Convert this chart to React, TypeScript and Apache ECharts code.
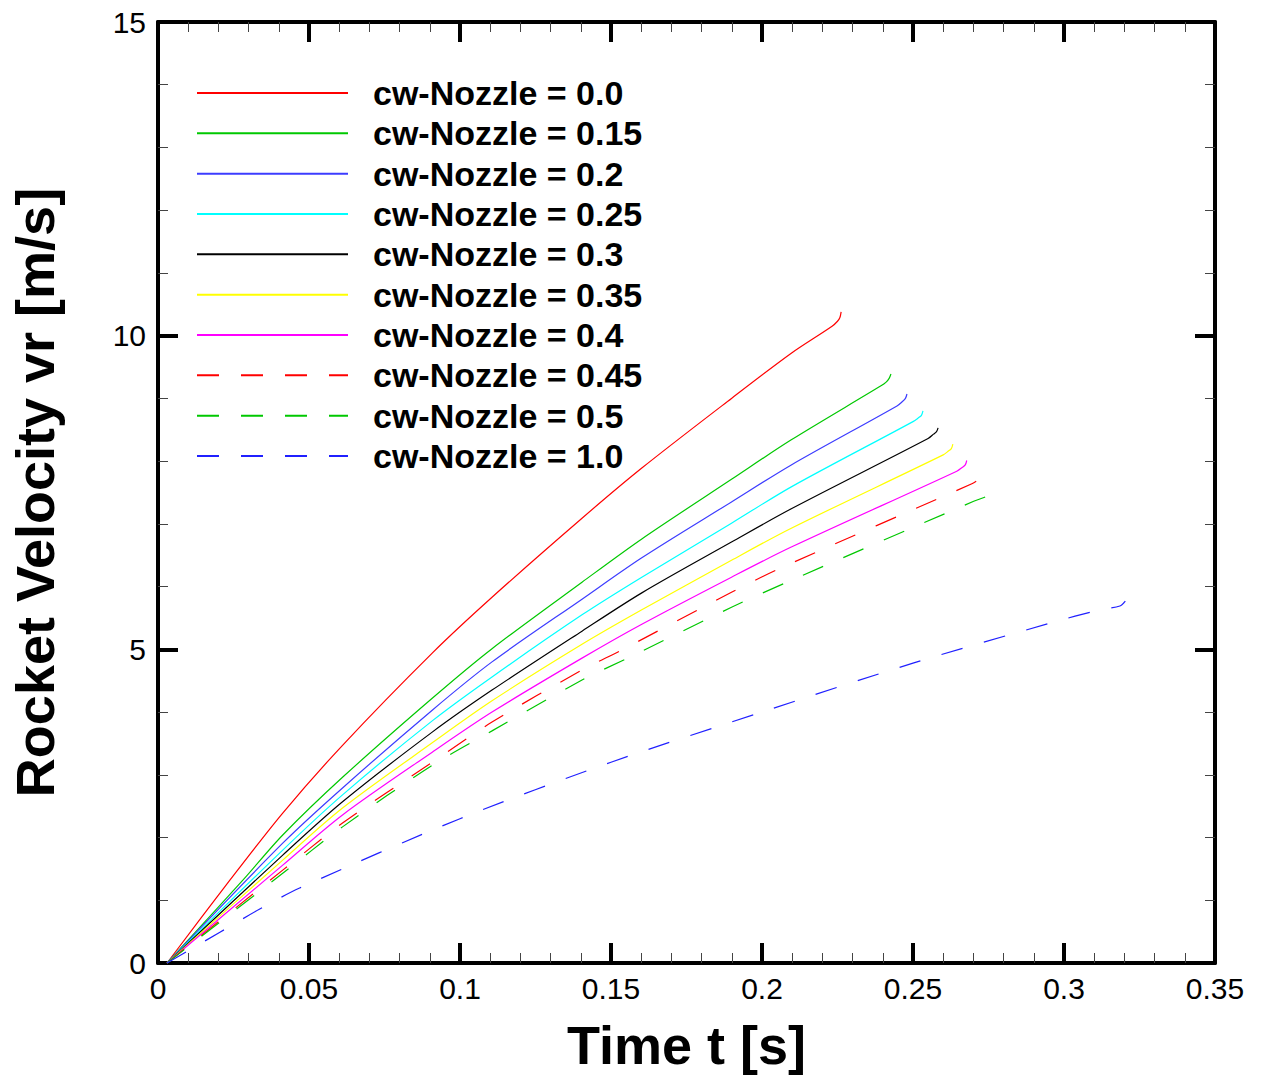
import React, { useEffect, useRef } from "react";
import * as echarts from "echarts";

const xTicks = [0, 0.35, 0.05];
const yTicks = [0, 15, 5];

const seriesNames = [
  "cw-Nozzle = 0.0",
  "cw-Nozzle = 0.15",
  "cw-Nozzle = 0.2",
  "cw-Nozzle = 0.25",
  "cw-Nozzle = 0.3",
  "cw-Nozzle = 0.35",
  "cw-Nozzle = 0.4",
  "cw-Nozzle = 0.45",
  "cw-Nozzle = 0.5",
  "cw-Nozzle = 1.0",
];

const seriesColors = [
  "#ff0000", "#00c800", "#3c3cff", "#00ffff", "#000000",
  "#ffff00", "#ff00ff", "#ff0000", "#00c800", "#2020ff",
];

const seriesDashed = [false, false, false, false, false, false, false, true, true, true];

const v000 = [[0.003, 0], [0.0238, 1.32], [0.0413, 2.39], [0.0611, 3.47], [0.0908, 4.94], [0.1106, 5.83], [0.1404, 7.09], [0.1602, 7.89], [0.1899, 9.0], [0.2097, 9.72], [0.2232, 10.15], [0.2250, 10.23], [0.2258, 10.29], [0.2262, 10.38]];
const v015 = [[0.003, 0], [0.0281, 1.32], [0.0413, 2.04], [0.0611, 2.96], [0.0908, 4.22], [0.1106, 5.01], [0.1404, 6.07], [0.1602, 6.76], [0.1899, 7.71], [0.2097, 8.34], [0.2394, 9.2], [0.2411, 9.26], [0.2421, 9.32], [0.2427, 9.39]];
const v020 = [[0.003, 0], [0.0413, 1.91], [0.0611, 2.79], [0.0908, 4.03], [0.1106, 4.8], [0.1404, 5.8], [0.1602, 6.46], [0.1899, 7.35], [0.2097, 7.94], [0.2447, 8.88], [0.2465, 8.95], [0.2475, 9.0], [0.248, 9.07]];
const v025 = [[0.003, 0], [0.0413, 1.8], [0.0611, 2.68], [0.0908, 3.86], [0.1106, 4.56], [0.1404, 5.55], [0.1602, 6.15], [0.1899, 7.01], [0.2097, 7.59], [0.25, 8.63], [0.2518, 8.69], [0.2528, 8.73], [0.2533, 8.8]];
const v030 = [[0.003, 0], [0.0413, 1.72], [0.0611, 2.57], [0.0908, 3.68], [0.1106, 4.35], [0.1404, 5.29], [0.1602, 5.9], [0.1899, 6.71], [0.2097, 7.24], [0.255, 8.36], [0.2568, 8.43], [0.2578, 8.47], [0.2583, 8.53]];
const v035 = [[0.003, 0], [0.0413, 1.64], [0.0611, 2.47], [0.0908, 3.51], [0.1106, 4.18], [0.1404, 5.08], [0.1602, 5.63], [0.1899, 6.42], [0.2097, 6.93], [0.26, 8.1], [0.2617, 8.16], [0.2627, 8.2], [0.2632, 8.27]];
const v040 = [[0.003, 0], [0.0413, 1.56], [0.0611, 2.36], [0.0908, 3.36], [0.1106, 4.0], [0.1404, 4.86], [0.1602, 5.4], [0.1899, 6.15], [0.2097, 6.63], [0.2645, 7.84], [0.2663, 7.9], [0.2673, 7.94], [0.2678, 8.01]];
const v045 = [[0.003, 0], [0.0413, 1.48], [0.0611, 2.23], [0.0908, 3.2], [0.1106, 3.84], [0.1404, 4.67], [0.1536, 4.99], [0.1899, 5.91], [0.2064, 6.3], [0.2695, 7.64], [0.2713, 7.69], [0.2723, 7.73], [0.2728, 7.78]];
const v050 = [[0.003, 0], [0.0413, 1.43], [0.0611, 2.17], [0.0908, 3.15], [0.1106, 3.7], [0.1404, 4.51], [0.1555, 4.86], [0.1899, 5.67], [0.2097, 6.1], [0.2701, 7.36], [0.2745, 7.44], [0.2760, 7.48], [0.2767, 7.53]];
const v100 = [[0.003, 0], [0.0205, 0.49], [0.0337, 0.86], [0.0469, 1.195], [0.1, 2.3], [0.15, 3.2], [0.2, 4.0], [0.25, 4.78], [0.2956, 5.42], [0.3118, 5.63], [0.3185, 5.69], [0.3203, 5.77]];

const seriesData = [v000, v015, v020, v025, v030, v035, v040, v045, v050, v100];

const FONT = "Liberation Sans, Arial, sans-serif";

function makeX(pos: "bottom" | "top", labels: boolean) {
  return {
    type: "value",
    position: pos,
    min: xTicks[0],
    max: xTicks[1],
    interval: xTicks[2],
    name: labels ? "Time t [s]" : "",
    nameLocation: "middle",
    nameGap: 55,
    nameTextStyle: { fontFamily: FONT, fontWeight: "bold", fontSize: 54, color: "#000" },
    axisLine: { show: true, onZero: false, lineStyle: { color: "#000", width: 4 } },
    axisTick: { show: true, inside: true, length: 20, lineStyle: { color: "#000", width: 4 } },
    minorTick: { show: true, splitNumber: 5, length: 10, lineStyle: { color: "#444", width: 1 } },
    axisLabel: { show: labels, margin: 10, fontSize: 30, color: "#000", fontFamily: FONT },
    splitLine: { show: false },
  };
}

function makeY(pos: "left" | "right", labels: boolean) {
  return {
    type: "value",
    position: pos,
    min: yTicks[0],
    max: yTicks[1],
    interval: yTicks[2],
    name: labels ? "Rocket Velocity vr [m/s]" : "",
    nameLocation: "middle",
    nameGap: 96,
    nameTextStyle: { fontFamily: FONT, fontWeight: "bold", fontSize: 54, color: "#000" },
    axisLine: { show: true, onZero: false, lineStyle: { color: "#000", width: 4 } },
    axisTick: { show: true, inside: true, length: 20, lineStyle: { color: "#000", width: 4 } },
    minorTick: { show: true, splitNumber: 5, length: 10, lineStyle: { color: "#444", width: 1 } },
    axisLabel: { show: labels, margin: 12, fontSize: 30, color: "#000", fontFamily: FONT },
    splitLine: { show: false },
  };
}

export default function App() {
  const ref = useRef<HTMLDivElement>(null);
  useEffect(() => {
    if (!ref.current) return;
    const chart = echarts.init(ref.current, null, { renderer: "svg" });
    const series = seriesNames.map((name, i) => ({
      name,
      type: "line",
      data: seriesData[i],
      xAxisIndex: 0,
      yAxisIndex: 0,
      symbol: "none",
      showSymbol: false,
      smooth: 0.3,
      lineStyle: { color: seriesColors[i], width: 1.2, type: seriesDashed[i] ? [22, 22] : "solid" },
      itemStyle: { color: seriesColors[i] },
      emphasis: { disabled: true },
    }));
    chart.setOption({
      animation: false,
      backgroundColor: "#fff",
      grid: { left: 155, right: 46, top: 22, bottom: 121, containLabel: false },
      xAxis: [makeX("bottom", true), makeX("top", false)],
      yAxis: [makeY("left", true), makeY("right", false)],
      legend: {
        show: true,
        orient: "vertical",
        left: 196,
        top: 73,
        padding: 0,
        itemWidth: 151,
        itemHeight: 14,
        itemGap: 0.33,
        selectedMode: false,
        itemStyle: { opacity: 0 },
        textStyle: {
          fontFamily: FONT,
          fontWeight: "bold",
          fontSize: 34,
          color: "#000",
          lineHeight: 40,
          padding: [0, 0, 0, 20],
        },
        data: seriesNames,
      },
      series,
    });
    return () => chart.dispose();
  }, []);
  return (
    <div
      ref={ref}
      style={{ position: "fixed", left: 0, top: 0, width: 1261, height: 1084, background: "#fff" }}
    />
  );
}
